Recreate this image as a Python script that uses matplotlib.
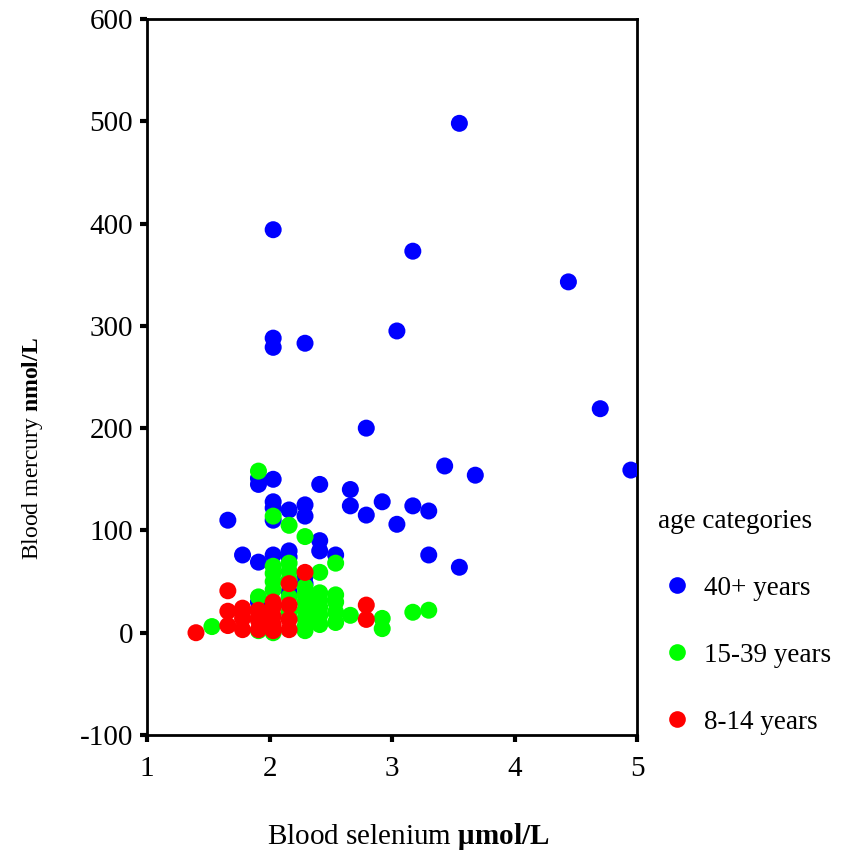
import matplotlib
matplotlib.use("Agg")
import matplotlib.pyplot as plt
from matplotlib.lines import Line2D

plt.rcParams['font.family'] = ['Liberation Serif', 'DejaVu Serif']
plt.rcParams['mathtext.fontset'] = 'custom'
plt.rcParams['mathtext.rm'] = 'Liberation Serif'
plt.rcParams['mathtext.bf'] = 'Liberation Serif:bold'

# ---- data ----
old_se = [3.55, 2.03, 3.17, 4.44, 3.04, 2.03, 2.03, 2.29, 4.70, 2.79, 4.95, 3.43, 3.68,
          1.91, 1.91, 2.03, 2.41, 2.66, 2.66, 2.92, 3.17, 3.30, 2.79, 3.04, 2.03, 2.03,
          2.03, 2.16, 2.29, 2.29, 1.66, 2.41, 2.41, 2.54, 3.30, 3.55, 1.78, 1.91, 2.03,
          2.16, 2.16, 2.29, 2.29, 2.16, 1.91]
old_hg = [498, 394, 373, 343, 295, 288, 279, 283, 219, 200, 159, 163, 154,
          151, 145, 150, 145, 140, 124, 128, 124, 119, 115, 106, 128, 122,
          110, 120, 125, 114, 110, 90, 80, 76, 76, 64, 76, 69, 76,
          80, 74, 55, 48, 40, 30]

mid_se = [1.91, 2.03, 2.16, 2.29, 2.54, 2.41, 2.03, 2.03, 2.03, 2.03, 2.16, 2.16, 2.16,
          2.29, 2.29, 2.29, 2.29, 2.29, 2.29, 2.29, 2.41, 2.41, 2.41, 2.41, 2.41,
          2.54, 2.54, 2.54, 2.54, 2.66, 2.92, 2.92, 3.17, 3.30, 1.53, 1.91, 1.91,
          2.03, 2.16, 2.16]
mid_hg = [158, 114, 105, 94, 68, 59, 65, 58, 50, 42, 68, 60, 52,
          45, 37, 30, 22, 14, 6, 2, 39, 32, 25, 17, 8,
          37, 30, 20, 10, 17, 14, 4, 20, 22, 6, 35, 2,
          0, 35, 20]

young_se = [1.40, 1.66, 1.66, 1.66, 1.78, 1.78, 1.78, 1.91, 1.91, 1.91, 2.03, 2.03, 2.03,
            2.03, 2.16, 2.16, 2.16, 2.16, 2.29, 2.79, 2.79, 1.78, 1.91, 2.03]
young_hg = [0, 41, 21, 7, 24, 14, 3, 22, 12, 3, 30, 16, 2,
            25, 48, 27, 13, 3, 59, 27, 13, 20, 15, 8]

groups = ['40+ years', '15-39 years', '8-14 years']
colors = ['#0000ff', '#00ff00', '#ff0000']

x_ticks = [1, 2, 3, 4, 5]
y_ticks = [-100, 0, 100, 200, 300, 400, 500, 600]

fig = plt.figure(figsize=(8.43, 8.55), dpi=100)
ax = fig.add_axes([147/843, 1-735/855, (637-147)/843, (735-19)/855])

size = 150
for xs, ys, c in zip([old_se, mid_se, young_se], [old_hg, mid_hg, young_hg], colors):
    ax.scatter(xs, ys, s=size, c=c, edgecolors='none', zorder=3)

ax.set_xlim(1, 5)
ax.set_ylim(-100, 600)
ax.set_xticks(x_ticks)
ax.set_yticks(y_ticks)
ax.set_xticklabels([str(v) for v in x_ticks])
ax.set_yticklabels([str(v) for v in y_ticks])
for sp in ax.spines.values():
    sp.set_linewidth(2.0)
    sp.set_color('black')
ax.tick_params(direction='out', length=5, width=3, labelsize=21, color='black')
ax.tick_params(axis='x', pad=10)
ax.tick_params(axis='y', pad=5)

fig.text(33/843, 1-449/855, r'Blood mercury $\mathbf{nmol/L}$', rotation=90,
         ha='center', va='center', fontsize=17)
fig.text(408/843, 1-836/855, r'Blood selenium $\mathbf{μmol/L}$',
         ha='center', va='center', fontsize=21)

handles = [Line2D([], [], marker='o', linestyle='none', markersize=12,
                  markerfacecolor=c, markeredgecolor='none') for c in colors]
leg = fig.legend(handles, groups, title='age categories', loc='upper left',
                 bbox_to_anchor=(639/843, 1-490/855), frameon=False, fontsize=19.5,
                 title_fontsize=19.5, labelspacing=1.55, handletextpad=0.3,
                 handlelength=1.4, borderpad=0.2)
leg._legend_box.align = 'left'

fig.savefig('out.png', dpi=100)
